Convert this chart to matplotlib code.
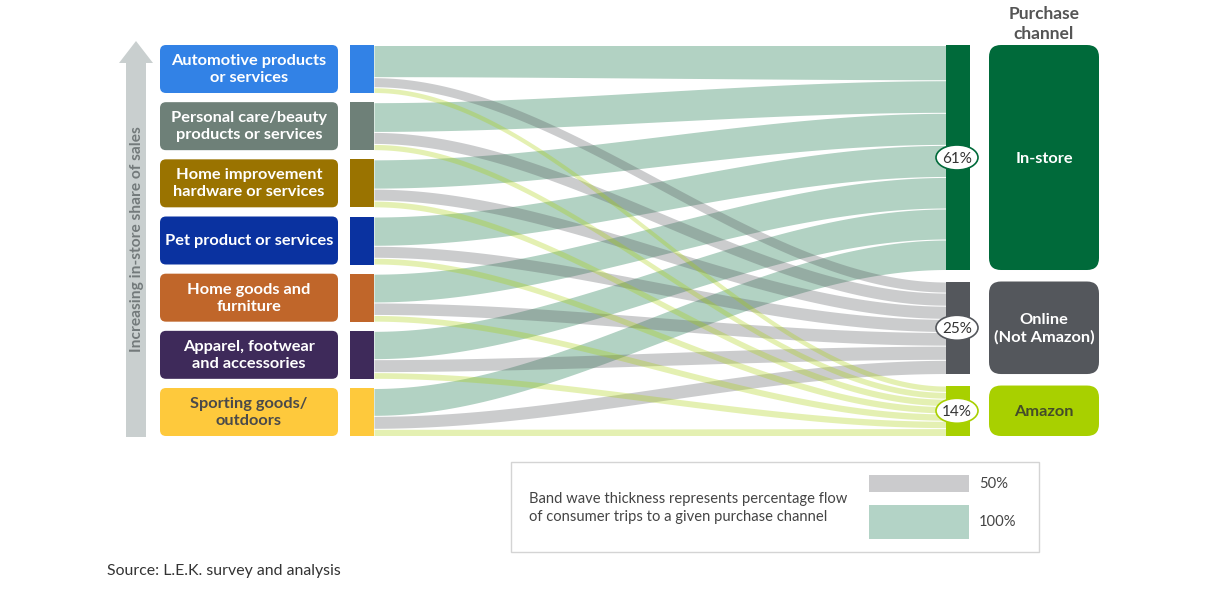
import numpy as np
import matplotlib
matplotlib.use("Agg")
import matplotlib.pyplot as plt
from matplotlib.patches import FancyBboxPatch, Rectangle, Ellipse, Polygon

plt.rcParams["font.family"] = ["Lato", "DejaVu Sans"]

# categories, top = highest in-store share
categories = [
    "Automotive products\nor services",
    "Personal care/beauty\nproducts or services",
    "Home improvement\nhardware or services",
    "Pet product or services",
    "Home goods and\nfurniture",
    "Apparel, footwear\nand accessories",
    "Sporting goods/\noutdoors",
]
cat_colors = ["#3282e6", "#6e8078", "#9a7300", "#0a32a0", "#c0662a", "#3e2a5a", "#fec93c"]
cat_text = ["white"] * 6 + ["#4a4a4a"]

channels = ["In-store", "Online\n(Not Amazon)", "Amazon"]
channel_colors = ["#006a3a", "#54575c", "#a8d000"]
channel_text = ["white", "white", "#444c2a"]

# share of consumer trips (%) per category
in_store = [67, 62, 61, 61, 60, 59, 58]
online = [21, 25, 25, 25, 26, 27, 27]
amazon = [12, 13, 14, 14, 14, 14, 15]

legend_values = [50, 100]

shares = np.array([in_store, online, amazon]).T  # rows = categories

W, H = 1224, 597
fig = plt.figure(figsize=(W / 100, H / 100), dpi=100)
ax = fig.add_axes([0, 0, 1, 1])
ax.set_xlim(0, W)
ax.set_ylim(H, 0)
ax.axis("off")

# layout
top, bottom = 45, 436
node_h = 48
k_left = node_h / 100
gap_l = (bottom - top - node_h * len(categories)) / (len(categories) - 1)
cat_top = [top + i * (node_h + gap_l) for i in range(len(categories))]

ch_tot = shares.sum(axis=0)
right_h = 368
k_right = right_h / ch_tot.sum()
gap_r = (bottom - top - right_h) / (len(channels) - 1)
ch_top = []
y = top
for j in range(len(channels)):
    ch_top.append(y)
    y += ch_tot[j] * k_right + gap_r

x0, x1 = 374, 946
xs = np.linspace(x0, x1, 300)
t = (xs - x0) / (x1 - x0)
s = 3 * t ** 2 - 2 * t ** 3

# flows
for j in range(len(channels)):
    for i in range(len(categories)):
        yl = cat_top[i] + shares[i, :j].sum() * k_left
        wl = shares[i, j] * k_left
        yr = ch_top[j] + shares[:i, j].sum() * k_right
        wr = shares[i, j] * k_right
        upper = yl + (yr - yl) * s + 0.5
        lower = (yl + wl) + ((yr + wr) - (yl + wl)) * s - 0.5
        ax.fill_between(xs, upper, lower, color=channel_colors[j], alpha=0.3, lw=0)

# left nodes and labels
for i, name in enumerate(categories):
    ax.add_patch(Rectangle((350, cat_top[i]), 24, node_h, color=cat_colors[i], lw=0))
    ax.add_patch(FancyBboxPatch((160, cat_top[i]), 178, node_h,
                                boxstyle="round,pad=0,rounding_size=6",
                                fc=cat_colors[i], ec="none"))
    ax.text(249, cat_top[i] + node_h / 2 + 0.5, name, ha="center", va="center",
            fontsize=11.8, fontweight="bold", color=cat_text[i], linespacing=1.3)

# right nodes and labels
for j, name in enumerate(channels):
    h = ch_tot[j] * k_right
    ax.add_patch(Rectangle((946, ch_top[j]), 24, h, color=channel_colors[j], lw=0))
    ax.add_patch(FancyBboxPatch((989, ch_top[j]), 110, h,
                                boxstyle="round,pad=0,rounding_size=12",
                                fc=channel_colors[j], ec="none"))
    ax.text(1044, ch_top[j] + h / 2 + 1, name, ha="center", va="center",
            fontsize=11.8, fontweight="bold", color=channel_text[j], linespacing=1.25)
    pct = round(ch_tot[j] / len(categories))
    ax.add_patch(Ellipse((957, ch_top[j] + h / 2), 42, 25, fc="white",
                         ec=channel_colors[j], lw=1.2))
    ax.text(957, ch_top[j] + h / 2 + 1, f"{pct}%", ha="center", va="center",
            fontsize=11, color="#333333")

ax.text(1044, 24, "Purchase\nchannel", ha="center", va="center", fontsize=12.5,
        fontweight="bold", color="#555555", linespacing=1.3)

# arrow on the left
ax.add_patch(Polygon([(126, 437), (146, 437), (146, 63), (153, 63), (136, 41),
                      (119, 63), (126, 63)], closed=True, fc="#c9cfcf", ec="none"))
ax.text(137, 239, "Increasing in-store share of sales", rotation=90, ha="center",
        va="center", fontsize=11.2, fontweight="bold", color="#737a7b")

# legend box
ax.add_patch(Rectangle((511, 462), 528, 90, fc="white", ec="#d4d4d4", lw=1))
ax.text(529, 508, "Band wave thickness represents percentage flow\nof consumer trips to a given purchase channel",
        ha="left", va="center", fontsize=10.6, color="#444444", linespacing=1.3)
leg_colors = ["#cbcbcd", "#b3d3c6"]
leg_y = [475, 505]
for v, c, yy in zip(legend_values, leg_colors, leg_y):
    hh = v * 0.34
    ax.add_patch(Rectangle((869, yy), 100, hh, fc=c, ec="none"))
    ax.text(979, yy + hh / 2, f"{v}%", ha="left", va="center", fontsize=10.6, color="#444444")

ax.text(107, 571, "Source: L.E.K. survey and analysis", ha="left", va="center",
        fontsize=11.4, color="#333333")

fig.savefig("out.png", dpi=100)
